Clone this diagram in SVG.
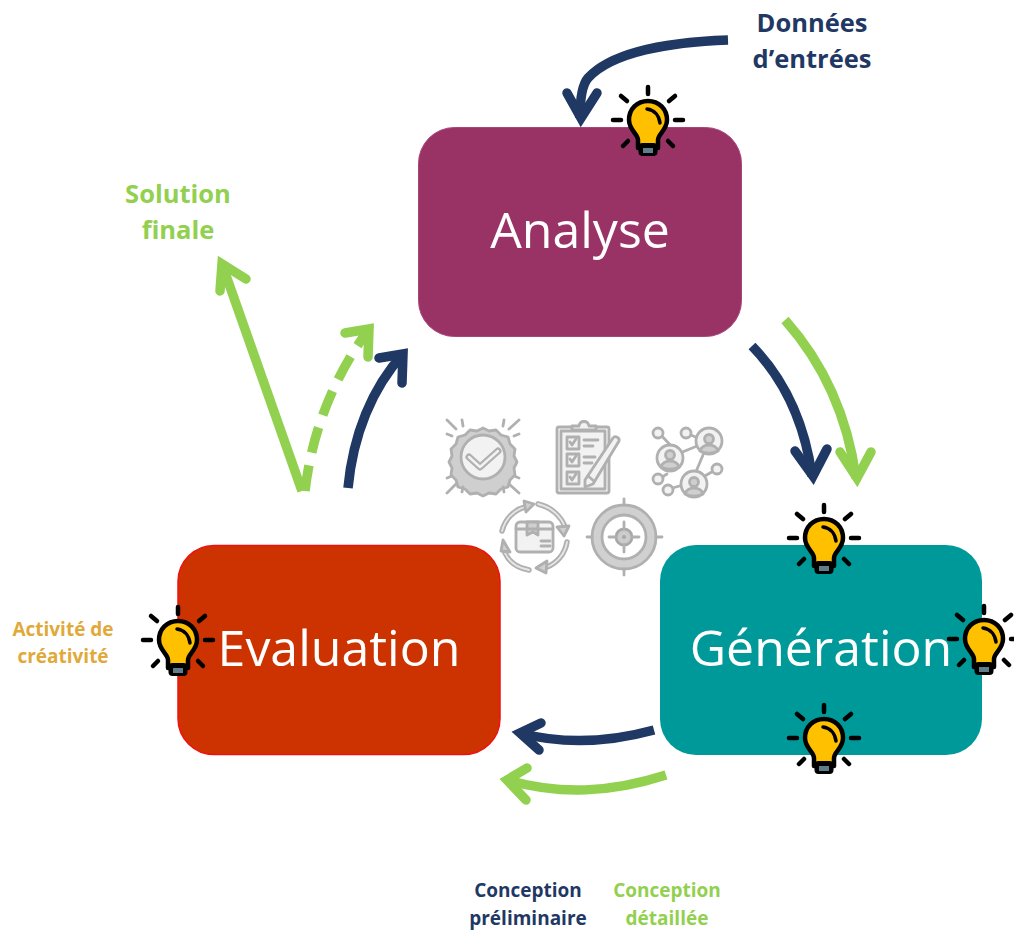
<svg xmlns="http://www.w3.org/2000/svg" width="1014" height="931" viewBox="0 0 1014 931">
<style>
text{font-family:"Open Sans","Noto Sans","Liberation Sans",sans-serif;text-anchor:middle}
.big{font-size:50px;fill:#fff}
.lab{font-size:25.500px;font-weight:700}
.cap{font-size:19px}
.small{font-size:19px;font-weight:700;fill:#e0a93a}
.navy{fill:#1f3864}.green{fill:#92d050}
.ln{fill:none;stroke-linecap:butt}
.hd{fill:none;stroke-linecap:round;stroke-linejoin:miter;stroke-miterlimit:8}
.dash{stroke-dasharray:26 13}
.n{stroke:#1f3864;stroke-width:9.500}
.g{stroke:#92d050;stroke-width:9.500}
.ic{fill:none;stroke:#b0b0b0;stroke-width:2.800;stroke-linecap:round;stroke-linejoin:round}
.f{fill:#cfcfcf}.l{fill:#f2f2f2}
</style>
<defs>
<g id="bulb">
<g stroke="#000" stroke-width="4.500" stroke-linecap="round" fill="none">
<path d="M0-33V-26M-27-24L-21-19M27-24L21-19M-35 0H-27M35 0H27M-25 26L-20 21M25 26L20 21"/>
</g>
<path d="M-10 28V20C-10 14-19 10-19 0C-19-11-11-19 0-19C11-19 19-11 19 0C19 10 10 14 10 20V28Z" fill="#ffc000" stroke="#000" stroke-width="4.500" stroke-linejoin="round"/>
<rect x="-9.500" y="23" width="19" height="13" rx="4" fill="#000"/>
<rect x="-5" y="28" width="10" height="5" fill="#607d8b"/>
<path d="M-1-11C6-10 11-5 12 3" fill="none" stroke="#000" stroke-width="3.500" stroke-linecap="round"/>
</g>
</defs>
<g id="node-analyse">
<rect x="418.500" y="127.500" width="323" height="209" rx="36" fill="#993366" stroke="#a9447a"/>
<text class="big" x="580" y="248">Analyse</text>
</g>
<g id="node-evaluation">
<rect x="178" y="545.500" width="322" height="209" rx="36" fill="#cc3300" stroke="#f01010" stroke-width="1.500"/>
<text class="big" x="339" y="666">Evaluation</text>
</g>
<g id="node-generation">
<rect x="660" y="545" width="322" height="210" rx="36" fill="#009999"/>
<text class="big" x="821" y="666">Génération</text>
</g>
<g id="connectors">
<path class="ln n" d="M728 40C670 42 612 52 588 78Q580 87 580 118"/>
<path class="hd n" d="M567 93L581 118L597 93"/>
<path class="ln n" d="M752 346C785 380 805 425 812 476"/>
<path class="hd n" d="M795 451L813 476L827 449"/>
<path class="ln g" d="M785 320C825 365 848 420 856 478"/>
<path class="hd g" d="M840 452L857 478L871 452"/>
<path class="ln n" d="M654 730C610 742 565 745 520 733"/>
<path class="hd n" d="M541 723L520 733L539 750"/>
<path class="ln g" d="M666 775C610 793 560 795 507 780"/>
<path class="hd g" d="M527 768L507 780L526 800"/>
<path class="ln n" d="M348 488C353 435 372 388 403 354"/>
<path class="hd n" d="M379 358L403 354L402 383"/>
<path class="ln g dash" d="M305 491C312 430 335 375 369 329"/>
<path class="hd g" d="M345 333L369 329L368 357"/>
<path class="ln g" d="M302 491L222 264"/>
<path class="hd g" d="M220 291L222 264L246 279"/>
</g>
<g id="icon-badge" class="ic">
<path class="f" d="M483 428l6 3 7-1 5 5 7 2 2 7 5 5-1 7 3 6-3 6 1 7-5 5-2 7-7 2-5 5-7-1-6 3-6-3-7 1-5-5-7-2-2-7-5-5 1-7-3-6 3-6-1-7 5-5 2-7 7-2 5-5 7 1z"/>
<circle class="l" cx="483" cy="457" r="22"/>
<path stroke-width="7" d="M469 457l11 10 18-16"/>
<path stroke="#f2f2f2" stroke-width="2.500" d="M469 457l11 10 18-16"/>
<path d="M447 420l9 9M519 420l-10 9M447 493l9-9M519 493l-10-9M462 420l1 6M504 420l-1 6M462 492l1-5M504 492l-1-5M447 434l5 2M519 434l-5 2M447 478l5-2M519 478l-5-2"/>
</g>
<g id="icon-checklist" class="ic">
<rect class="l" x="557" y="427" width="52" height="66" rx="2"/>
<rect x="561" y="431" width="44" height="58"/>
<path class="l" d="M572 430v-4h7c1-6 9-6 10 0h7v4z"/>
<rect class="l" x="567" y="437" width="12" height="12"/><rect class="l" x="567" y="454" width="12" height="12"/><rect class="l" x="567" y="472" width="12" height="12"/>
<path d="M570 442l2 3 4-6M570 459l2 3 4-6M570 477l2 3 4-6M584 440h14M584 446h9M584 457h11M584 463h8"/>
<path class="l" d="M585 480l28-42c2-3 7 0 6 3l-26 43-8 3z"/>
<path d="M588 476l6 5"/>
</g>
<g id="icon-network" class="ic">
<path d="M659 433l15 16M686 433l12 5M702 444l-22 9M703 455l-8 19M717 469l-14 8M659 479l8-5M669 489l14-4"/>
<circle class="l" cx="658" cy="433" r="5"/><circle class="l" cx="686" cy="433" r="5"/><circle class="l" cx="717" cy="469" r="5"/><circle class="l" cx="658" cy="479" r="5"/><circle class="l" cx="668" cy="490" r="5"/>
<circle class="l" cx="670" cy="458" r="13"/><circle class="l" cx="709" cy="441" r="13"/><circle class="l" cx="694" cy="484" r="13"/>
<circle class="f" cx="670" cy="455" r="4.500"/><path class="f" d="M661 467c2-8 16-8 18 0-5 3-13 3-18 0z"/>
<circle class="f" cx="709" cy="439" r="4.500"/><path class="f" d="M700 451c2-8 16-8 18 0-5 3-13 3-18 0z"/>
<circle class="f" cx="694" cy="482" r="4.500"/><path class="f" d="M685 494c2-8 16-8 18 0-5 3-13 3-18 0z"/>
</g>
<g id="icon-cycle" class="ic">
<rect class="l" x="516" y="522" width="37" height="30" rx="4"/>
<path class="f" d="M527 522h11v13l-5-3-6 3z"/><path d="M516 529h37M541 541h9M541 546h9"/>
<path stroke-width="5.500" d="M502 531C505 519 514 510 525 507M538 504C551 507 561 516 565 527M567 542C565 554 557 563 547 567M529 570C518 568 509 562 505 553"/>
<path stroke="#e6e6e6" stroke-width="1.800" d="M502 531C505 519 514 510 525 507M538 504C551 507 561 516 565 527M567 542C565 554 557 563 547 567M529 570C518 568 509 562 505 553"/>
<path class="f" d="M524 501l10 3-8 8zM557 527l12-1-5 10zM547 561l-1 12-10-5zM510 552l-9-1 2-11z"/>
</g>
<g id="icon-target" class="ic">
<circle cx="624" cy="537" r="27" fill="none" stroke="#d0d0d0" stroke-width="10"/>
<circle cx="624" cy="537" r="32"/>
<circle cx="624" cy="537" r="22" fill="#fff"/>
<circle cx="624" cy="537" r="8" fill="#ccc" stroke="#a8a8a8"/>
<circle cx="624" cy="537" r="2" fill="#a8a8a8" stroke="none"/>
<path d="M624 499v6M624 569v6M587 537h5M656 537h6M624 522v7M624 545v7M609 537h7M632 537h7"/>
</g>
<g id="bulb-analyse"><use href="#bulb" x="648" y="120"/></g>
<g id="bulb-generation-top"><use href="#bulb" x="824" y="538"/></g>
<g id="bulb-generation-right"><use href="#bulb" x="984" y="639"/></g>
<g id="bulb-generation-bottom"><use href="#bulb" x="824" y="738"/></g>
<g id="bulb-evaluation"><use href="#bulb" x="178" y="640"/></g>
<g id="labels">
<text class="lab navy" x="812" y="32">Données</text>
<text class="lab navy" x="812" y="68">d’entrées</text>
<text class="lab green" x="178" y="203">Solution</text>
<text class="lab green" x="178" y="239">finale</text>
<text class="small" x="63" y="636">Activité de</text>
<text class="small" x="63" y="663">créativité</text>
<text class="lab cap navy" x="528" y="897">Conception</text>
<text class="lab cap navy" x="528" y="925">préliminaire</text>
<text class="lab cap green" x="667" y="897">Conception</text>
<text class="lab cap green" x="667" y="925">détaillée</text>
</g>
</svg>
